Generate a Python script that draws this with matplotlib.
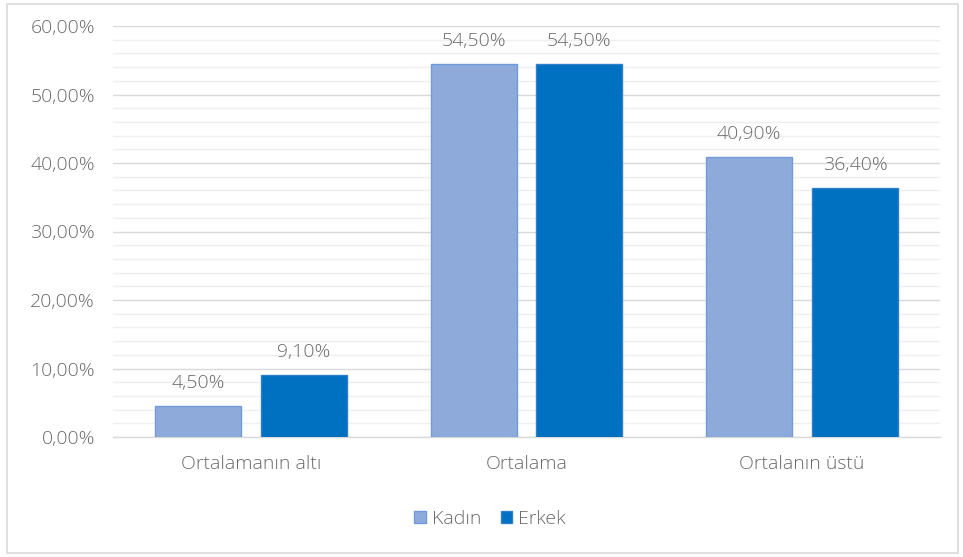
import matplotlib
matplotlib.use("Agg")
import matplotlib.pyplot as plt
import matplotlib.ticker as ticker
from matplotlib.patches import Rectangle
import numpy as np

categories = ["Ortalamanın altı", "Ortalama", "Ortalanın üstü"]
kadin = [4.5, 54.5, 40.9]
erkek = [9.1, 54.5, 36.4]
series_names = ["Kadın", "Erkek"]

plt.rcParams["font.family"] = ["Open Sans", "DejaVu Sans"]

TEXT = "#6a6a6a"
FS = 14
fig = plt.figure(figsize=(9.63, 5.57), dpi=100)
fig.patch.set_facecolor("white")

# dış çerçeve
fig.patches.append(Rectangle((7 / 963, 4 / 557), 951 / 963, 549 / 557,
                             transform=fig.transFigure, fill=False,
                             edgecolor="#d9d9d9", linewidth=1.2))

ax = fig.add_axes([113 / 963, 120 / 557, 827 / 963, 411 / 557])
ax.set_facecolor("white")

x = np.arange(len(categories))
w = 0.312
off = 0.192
b1 = ax.bar(x - off, kadin, w, color="#8eaadb", edgecolor="#6f9bd8",
            linewidth=1, label=series_names[0], zorder=3)
b2 = ax.bar(x + off, erkek, w, color="#0070c0", edgecolor="#2f80c8",
            linewidth=1, label=series_names[1], zorder=3)

for bars, vals in ((b1, kadin), (b2, erkek)):
    for rect, v in zip(bars, vals):
        ax.text(rect.get_x() + rect.get_width() / 2, v + 2.0,
                f"{v:.2f}%".replace(".", ","), ha="center", va="bottom",
                fontsize=FS, color=TEXT, fontweight="light")

ax.set_xlim(-0.5, 2.5)
ax.set_ylim(0, 60)
ax.yaxis.set_major_locator(ticker.MultipleLocator(10))
ax.yaxis.set_minor_locator(ticker.MultipleLocator(2))
ax.yaxis.set_major_formatter(ticker.FuncFormatter(lambda v, p: f"{v:.2f}%".replace(".", ",")))
ax.grid(True, which="major", axis="y", color="#d9d9d9", linewidth=1, zorder=0)
ax.grid(True, which="minor", axis="y", color="#efefef", linewidth=1, zorder=0)
ax.set_axisbelow(True)

ax.set_xticks(x)
ax.set_xticklabels(categories)
ax.tick_params(axis="x", length=0, pad=13, labelsize=FS, colors=TEXT)
ax.tick_params(axis="y", which="both", length=0, pad=13, labelsize=FS, colors=TEXT)
for lab in ax.get_xticklabels() + ax.get_yticklabels():
    lab.set_fontweight("light")

for s in ("top", "right", "left"):
    ax.spines[s].set_visible(False)
ax.spines["bottom"].set_color("#d9d9d9")
ax.spines["bottom"].set_linewidth(1)

fig.legend(handles=[b1, b2], labels=series_names, loc="center",
           bbox_to_anchor=(490 / 963, 1 - 519 / 557), ncol=2, frameon=False,
           handlelength=0.6, handleheight=0.6, handletextpad=0.3,
           columnspacing=1.0, labelcolor=TEXT,
           prop={"size": FS, "weight": "light"})

fig.savefig("out.png", dpi=100, facecolor="white")
